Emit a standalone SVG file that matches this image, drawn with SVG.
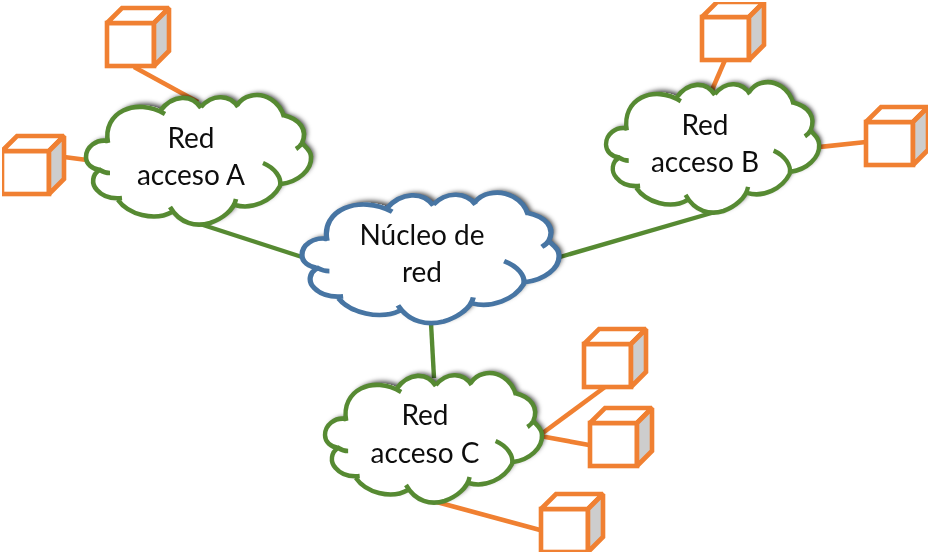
<svg xmlns="http://www.w3.org/2000/svg" width="935" height="556" viewBox="0 0 935 556">
<style>
.bg{fill:#fff}
.fill{fill:#fff;stroke:none}
.out{fill:none;stroke-width:4.6;stroke-linecap:butt;vector-effect:non-scaling-stroke}
.green .out{stroke:#578a33}
.blue .out{stroke:#4674a3}
.o{stroke:#f08030;stroke-width:4.6;fill:none}
.g{stroke:#578a33;stroke-width:4.4;fill:none}
.cf{fill:#fff;stroke:#f08030;stroke-width:4.6;stroke-linejoin:miter;stroke-miterlimit:1.8}
.cs{fill:#cdcdcd;stroke:#f08030;stroke-width:4.6;stroke-linejoin:miter;stroke-miterlimit:1.8}
text{font-family:"Lato","Liberation Sans",sans-serif;font-size:28px;fill:#111;text-anchor:middle}
</style>
<defs>
<filter id="sh" x="-10%" y="-15%" width="125%" height="130%"><feDropShadow dx="3" dy="-2" stdDeviation="2.5" flood-color="#000" flood-opacity="0.75"/></filter>
<filter id="soft" x="0" y="0" width="100%" height="100%"><feGaussianBlur stdDeviation="0.45"/></filter>
<path id="cfill" d="M108 141C96 139 86 147 86 157C86 164 92 169 100 170C92 174 91 184 97 190C103 197 112 199 118 200C128 214 154 222 170 212C180 224 196 227 210 223C222 219 232 212 235 204C252 210 272 201 280 185C298 182 312 170 311 156C310 150 304 146 302 143C308 130 300 119 284 116C280 102 265 92 250 96C245 97 240 101 237 105C230 95 213 93 201 106C192 94 173 94 160 109C136 98 104 112 108 141Z"/>
<path id="cline" d="M108 143C102 112 136 97 165 114M160 111C173 94 192 94 201 108M201 107C213 93 230 95 238 107M237 105C240 101 245 97 250 96C265 92 280 102 284 117M283 115C300 119 308 130 302 143C301 145 299 147 296 149M301 142C305 147 311 150 311 157C312 170 298 182 281 184M263 163C275 168 282 178 280 186C272 201 252 210 235 205M236 199C234 210 222 219 210 223C196 227 180 224 170 207M172 212C154 222 128 214 118 200M122 198C112 199 103 197 97 190C91 184 92 174 100 170C103 172 106 173 110 173M100 170C92 169 86 164 86 157C86 147 96 139 108 141"/>
<g id="cube"><rect class="cf" x="0" y="0" width="47" height="43"/><path class="cf" d="M0 0L15 -15H62L47 0Z"/><path class="cs" d="M47 0L62 -15V28L47 43Z"/></g>
</defs>
<rect class="bg" width="935" height="556"/>
<g filter="url(#soft)">
<g id="connectors">
<path class="o" d="M134 67L198 102"/>
<path class="o" d="M64 157L87 160"/>
<path class="o" d="M725 60L712 90"/>
<path class="o" d="M819 147L866 142"/>
<path class="o" d="M605 387L540 435"/>
<path class="o" d="M540 436L589 445"/>
<path class="o" d="M433 501L540 530"/>
<path class="g" d="M200 224L305 258"/>
<path class="g" d="M560 257L715 212"/>
<path class="g" d="M431 323L434 378"/>
</g>
<g id="cloud-a" class="green">
<use href="#cfill" class="fill" filter="url(#sh)"/>
<use href="#cline" class="out"/>
<text x="191" y="148">Red</text>
<text x="191" y="185">acceso A</text>
</g>
<g id="cloud-core" class="blue">
<g transform="translate(302 192.500) scale(1.142 1.008) translate(-86 -95)">
<use href="#cfill" class="fill" filter="url(#sh)"/>
<use href="#cline" class="out"/>
</g>
<text x="422" y="245">Núcleo de</text>
<text x="422" y="282">red</text>
</g>
<g id="cloud-b" class="green">
<g transform="translate(606 82) scale(0.947 1.008) translate(-86 -95)">
<use href="#cfill" class="fill" filter="url(#sh)"/>
<use href="#cline" class="out"/>
</g>
<text x="705" y="135">Red</text>
<text x="705" y="172">acceso B</text>
</g>
<g id="cloud-c" class="green">
<g transform="translate(325 373) scale(0.964 1.0) translate(-86 -95)">
<use href="#cfill" class="fill" filter="url(#sh)"/>
<use href="#cline" class="out"/>
</g>
<text x="425" y="425">Red</text>
<text x="425" y="463">acceso C</text>
</g>
<use id="cube-1" href="#cube" x="107" y="23"/>
<use id="cube-2" href="#cube" x="2" y="151"/>
<use id="cube-3" href="#cube" x="702" y="17"/>
<use id="cube-4" href="#cube" x="866" y="122"/>
<use id="cube-5" href="#cube" x="584" y="344"/>
<use id="cube-6" href="#cube" x="590" y="423"/>
<use id="cube-7" href="#cube" x="541" y="509"/>
</g>
</svg>
